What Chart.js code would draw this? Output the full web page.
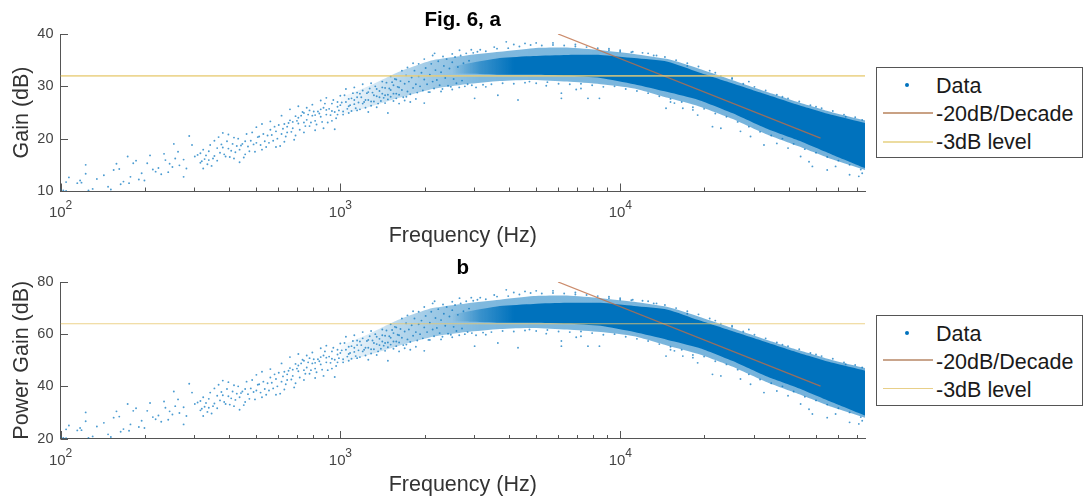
<!DOCTYPE html>
<html><head><meta charset="utf-8">
<script src="https://cdn.jsdelivr.net/npm/chart.js@4"></script>
<style>
html,body{margin:0;padding:0;background:#fff;overflow:hidden}
#wrap{position:relative;width:1083px;height:501px;font-family:"Liberation Sans",Arial,sans-serif}
.cv{position:absolute;left:0;width:1083px}
.lg{position:absolute;left:876px;width:205px;height:89px;border:1px solid #555;background:#fff}
.lg div{position:absolute;left:59px;font-size:21.5px;line-height:26px;color:#1a1a1a;white-space:nowrap}
.lg i{position:absolute;left:6px;width:50px;height:2px}
.lg b{position:absolute;left:28px;width:4px;height:4px;border-radius:50%;background:#0072BD}
</style></head><body>
<div id="wrap">
<canvas id="a" class="cv" style="top:0;height:250px" width="1083" height="250"></canvas>
<canvas id="b" class="cv" style="top:250px;height:251px" width="1083" height="251"></canvas>
<div class="lg" style="top:67px"><b style="top:15px"></b><div style="top:5px">Data</div><i style="top:44px;background:#c9a184"></i><div style="top:33px">-20dB/Decade</div><i style="top:73px;background:#ecdca0"></i><div style="top:61px">-3dB level</div></div>
<div class="lg" style="top:315px"><b style="top:15px"></b><div style="top:5px">Data</div><i style="top:43px;background:#c9a58c"></i><div style="top:33px">-20dB/Decade</div><i style="top:72px;background:#e8cf88;height:1px"></i><div style="top:61px">-3dB level</div></div>
</div>
<script>
// frequency ticks (Hz)
const xTicks=[100,200,300,400,500,600,700,800,900,1000,2000,3000,4000,5000,6000,7000,8000,9000,10000,20000,30000,40000,50000,60000,70000];
const decadeExp={100:'2',1000:'3',10000:'4'};
const yTicksA=[10,20,30,40], yTicksB=[20,40,60,80];
const titleA='Fig. 6, a', titleB='b';
const slopeFreq=[6000,52000], slopeA=[40,20.1], slopeB=[80,40.1];
const levelFreq=[100,75000], levelA=[32,32], levelB=[64,64];
// dense cloud outlines: log10(Hz) positions and gain values
const edgeLog=[3.00,3.10,3.21,3.33,3.45,3.57,3.69,3.81,3.93,4.05,4.17,4.28,4.40,4.52,4.64,4.76,4.875];
const outerTopA=[27.8,30.0,32.8,35.0,35.9,36.6,37.3,37.4,36.9,36.2,35.2,33.4,31.2,29.0,26.9,25.0,23.5];
const outerLowA=[24.5,26.0,27.8,29.5,30.4,31.0,31.2,30.9,30.4,29.6,27.8,26.2,23.8,20.9,18.5,16.0,14.0];
const outerTopB=[55.6,60.0,65.6,70.0,71.8,73.2,74.6,74.8,73.8,72.4,70.4,66.8,62.4,58.0,53.8,50.0,47.0];
const outerLowB=[49.0,52.0,55.6,59.0,60.8,62.0,62.4,61.8,60.8,59.2,55.6,52.4,47.6,41.8,37.0,32.0,28.0];
const coreLog=[3.40,3.46,3.57,3.69,3.81,3.93,4.05,4.17,4.28,4.40,4.52,4.64,4.76,4.875];
const coreTopA=[33.8,34.4,35.4,35.8,36.0,36.0,35.4,34.7,32.7,30.6,28.5,26.4,24.5,23.0];
const coreLowA=[32.4,32.4,32.2,32.2,32.0,31.6,30.4,28.9,27.4,24.9,22.0,19.6,16.9,14.4];
const coreTopB=[67.6,68.8,70.8,71.6,72.0,72.0,70.8,69.4,65.4,61.2,57.0,52.8,49.0,46.0];
const coreLowB=[64.8,64.8,64.4,64.4,64.0,63.2,60.8,57.8,54.8,49.8,44.0,39.2,33.8,28.8];
// individually readable points: [log10(Hz), gain dB]
const pointsA=[[2.00,10.3],[2.01,10.1],[2.02,10.0],[2.02,11.7],[2.03,12.6],[2.06,11.5],[2.07,12.0],[2.075,11.6],[2.09,15.0],[2.09,13.3],[2.10,10.1],[2.115,10.4],[2.13,12.3],[2.155,13.0],[2.17,10.8],[2.18,10.3],[2.19,14.0],[2.20,15.2],[2.21,14.2],[2.215,11.3],[2.225,11.8],[2.24,16.6],[2.25,12.7],[2.26,15.3],[2.27,15.8],[2.245,11.5],[2.28,12.2],[2.29,13.4],[2.30,12.0],[2.31,15.3],[2.32,16.8],[2.33,14.1],[2.34,13.7],[2.35,14.4],[2.36,13.2],[2.37,17.1],[2.375,15.9],[2.385,13.6],[2.39,15.2],[2.40,14.6],[2.405,19.0],[2.41,16.2],[2.42,17.5],[2.425,14.9],[2.44,16.0],[2.44,12.7],[2.45,14.3],[2.46,20.5],[2.47,18.8],[2.48,16.6],[2.49,16.9],[2.50,15.4],
[2.50,17.2],[2.505,15.7],[2.51,14.3],[2.515,16.1],[2.52,16.8],[2.53,15.9],[2.53,17.6],[2.54,14.8],[2.55,16.7],[2.55,19.6],[2.56,18.2],[2.565,20.3],[2.57,17.3],[2.58,21.1],[2.58,18.3],[2.59,16.6],[2.60,20.8],[2.60,18.1],[2.61,17.7],[2.62,16.2],[2.62,20.2],[2.63,18.6],[2.64,17.9],[2.64,15.5],[2.65,19.0],[2.66,17.0],[2.665,20.9],[2.67,18.5],[2.68,19.6],[2.69,18.9],[2.70,22.2],[2.70,19.2],[2.71,20.4],[2.72,17.9],[2.72,22.8],[2.73,19.5],[2.74,20.6],[2.75,21.7],[2.75,23.3],[2.76,19.6],[2.77,21.4],[2.77,18.4],[2.78,22.6],[2.79,20.9],[2.79,24.4],[2.80,22.8],[2.80,19.4],[2.81,21.2],[2.82,23.5],[2.82,25.6],[2.83,22.0],[2.84,24.3],[2.84,20.6],[2.85,22.9],[2.85,26.2],[2.86,24.4],[2.87,23.1],[2.87,21.2],[2.88,25.9],[2.88,23.6],[2.89,22.4],[2.90,24.4],[2.90,26.5],[2.91,23.4],[2.91,21.6],[2.92,25.2],[2.93,27.3],[2.93,24.2],[2.94,22.0],[2.94,25.9],[2.95,24.6],[2.95,27.8],[2.96,25.7],[2.97,23.4],[2.97,26.7],[2.98,25.1],[2.98,21.8],[2.99,26.1],[2.99,24.6],[3.00,28.2],[3.00,26.4],
[3.01,25.2],[3.02,27.0],[3.02,29.5],[3.03,26.2],[3.03,24.9],[3.04,27.7],[3.05,26.6],[3.05,29.8],[3.06,25.4],[3.06,27.9],[3.07,28.6],[3.08,26.7],[3.08,30.4],[3.09,27.4],[3.10,25.1],[3.10,28.9],[3.11,27.1],[3.11,30.6],[3.12,28.3],[3.13,26.0],[3.13,29.5],[3.14,27.9],[3.15,30.9],[3.15,28.6],[3.16,26.8],[3.16,29.7],[3.17,24.9],[3.17,28.4],[3.18,31.9],[3.18,29.3],[3.19,27.2],[3.19,30.2],[3.20,28.6],[3.20,31.3],[3.21,26.7],[3.21,29.8],[3.22,33.0],[3.23,27.3],[3.24,33.6],[3.25,27.0],[3.26,34.4],[3.27,27.6],[3.28,34.3],[3.30,26.8],[3.30,35.2],[3.236,28.0],[3.32,28.9],[3.33,35.9],[3.337,36.3],[3.367,35.7],[3.36,29.0],[3.40,36.2],[3.40,29.4],[3.426,36.9],[3.468,37.0],[3.48,27.7],[3.50,37.0],[3.52,29.9],[3.563,28.3],[3.55,37.5],[3.593,38.5],[3.62,38.0],[3.635,27.4],[3.66,38.2],[3.676,30.9],[3.70,38.3],[3.736,30.1],[3.76,38.3],[3.79,28.7],[3.79,27.7],[3.84,38.0],[3.843,29.4],[3.86,29.6],[3.885,27.7],[3.926,27.7],[3.96,37.2],[4.00,36.9],[4.045,36.6],[4.10,36.3],[4.13,35.9],[4.164,25.8],[4.18,27.0],[4.194,26.8],[4.224,25.8],[4.24,34.4],[4.26,25.5],[4.277,24.5],[4.33,22.3],[4.36,22.0],[4.34,32.6],[4.40,31.6],[4.43,21.4],[4.46,30.9],[4.466,20.4],[4.514,18.8],[4.56,19.1],[4.58,28.0],[4.60,18.2],[4.645,16.6],[4.675,15.6],[4.687,14.7],[4.70,26.1],[4.74,14.0],[4.77,14.7],[4.806,24.2],[4.82,13.1],[4.853,12.8],[4.865,13.4],[4.865,23.6]];
const cloudA=[[2.51,17.9],[2.525,15.1],[2.535,18.8],[2.545,16.2],[2.56,15.8],[2.575,18.9],[2.585,17.0],[2.595,19.5],[2.605,16.5],[2.615,19.0],[2.625,17.4],[2.635,20.0],[2.645,18.7],[2.655,16.4],[2.66,19.5],[2.675,17.6],[2.685,21.2],[2.695,17.5],[2.705,20.3],[2.715,18.8],[2.725,20.9],[2.735,18.4],[2.745,19.2],[2.755,20.7],[2.765,22.3],[2.775,20.0],[2.785,18.6],[2.795,21.9],[2.805,20.4],[2.815,23.0],[2.825,21.3],[2.835,19.8],[2.845,23.4],[2.855,21.7],[2.865,25.1],[2.875,22.4],[2.885,24.6],[2.895,23.1],[2.905,25.2],[2.915,22.7],[2.925,24.8],[2.935,23.2],[2.945,26.7],[2.955,23.1],[2.965,24.5],[2.975,27.4],[2.985,23.9],[2.995,25.4],[2.81,22.3],[2.83,23.2],[2.85,24.0],[2.87,24.9],[2.89,25.4],[2.91,24.5],[2.93,25.6],[2.95,25.5],[2.97,25.3],[2.99,27.0],
[3.005,26.9],[3.01,24.6],[3.015,28.3],[3.025,25.7],[3.03,27.6],[3.035,26.4],[3.04,25.3],[3.045,28.7],[3.05,27.4],[3.055,25.8],[3.06,28.8],[3.065,26.9],[3.07,25.6],[3.075,27.9],[3.08,29.2],[3.085,27.0],[3.09,25.9],[3.095,28.7],[3.10,27.4],[3.105,29.6],[3.11,26.3],[3.115,28.8],[3.12,27.1],[3.125,30.0],[3.13,28.1],[3.135,26.7],[3.14,29.1],[3.145,27.2],[3.15,29.8],[3.155,27.8],[3.16,28.3],[3.165,30.7],[3.17,27.5],[3.175,29.6],[3.18,28.0],[3.185,30.8],[3.19,28.6],[3.195,31.4],[3.20,27.7],[3.205,29.9],[3.21,28.4],[3.215,31.0],[3.22,29.3],[3.225,27.9],[3.23,30.5],[3.235,32.1],[3.24,29.0],[3.245,30.9],[3.25,28.5],[3.255,31.7],[3.26,29.7],[3.265,33.0],[3.27,30.4],[3.275,28.8],[3.28,31.9],[3.285,30.0],[3.29,32.6],[3.295,29.2],[3.30,31.3],[3.305,33.5],[3.31,30.4],[3.315,28.9],[3.32,32.2],[3.325,34.3],[3.33,30.9],[3.335,29.6],[3.34,33.1],[3.345,31.2],[3.35,34.8],[3.355,30.2],[3.36,32.7],[3.365,29.5],[3.37,33.9],[3.375,31.6],[3.38,35.2],[3.385,30.1],[3.39,33.4],[3.395,29.9],[3.40,34.6],[3.405,31.4],[3.41,35.6],[3.415,30.6],[3.42,33.7],[3.425,29.8],[3.43,35.9],[3.435,31.1],[3.44,34.4],[3.445,30.0],[3.45,36.3],[3.455,30.4],[3.46,34.9],[3.47,30.2],[3.475,36.4],[3.485,29.8],[3.49,36.6],[3.51,30.3],[3.52,36.7],[3.54,30.4],[3.56,37.2],[3.58,30.6],[3.60,37.3],[3.62,30.5],[3.64,37.6],[3.66,30.7],[3.68,37.9],[3.70,30.6],[3.72,37.8],[3.74,30.8],[3.76,37.9],[3.78,30.5],[3.80,37.8],[3.82,30.4],[3.84,37.6],[3.86,30.5],[3.88,37.5],[3.90,30.2],[3.92,37.3],[3.94,29.9],[3.96,36.9],[3.98,30.0],[4.00,36.6],[4.02,29.5],[4.04,36.5],[4.06,29.1],[4.08,36.4],[4.10,28.7],[4.12,35.9],[4.14,28.1],[4.16,35.6],[4.18,27.6],[4.20,35.0],[4.22,27.0],[4.24,33.9],[4.26,26.0],[4.28,33.8],[4.30,25.7],[4.32,33.0],[4.34,24.8],[4.36,32.0],[4.38,24.2],[4.40,31.4],[4.42,23.2],[4.44,30.5],[4.46,22.3],[4.48,29.9],[4.50,21.3],[4.52,29.2],[4.54,20.6],[4.56,28.4],[4.58,20.0],[4.60,27.7],[4.62,19.0],[4.64,27.1],[4.66,18.0],[4.68,26.4],[4.70,17.3],[4.72,25.8],[4.74,16.5],[4.76,25.3],[4.78,15.8],[4.80,24.6],[4.82,15.0],[4.84,24.1],[4.86,14.1]];
const pointsB=[[2.00,20.6],[2.01,20.2],[2.02,20.1],[2.02,23.5],[2.03,25.0],[2.06,23.1],[2.07,24.0],[2.075,23.2],[2.09,30.0],[2.09,26.6],[2.10,20.2],[2.115,20.8],[2.13,24.6],[2.155,26.0],[2.17,21.6],[2.18,20.6],[2.19,28.0],[2.20,30.4],[2.21,28.4],[2.215,22.6],[2.225,23.6],[2.24,33.2],[2.25,25.4],[2.26,30.6],[2.27,31.6],[2.245,23.0],[2.28,24.4],[2.29,26.8],[2.30,24.0],[2.31,30.6],[2.32,33.6],[2.33,28.2],[2.34,27.4],[2.35,28.8],[2.36,26.4],[2.37,34.2],[2.375,31.8],[2.385,27.2],[2.39,30.4],[2.40,29.2],[2.405,38.0],[2.41,32.4],[2.42,35.0],[2.425,29.8],[2.44,32.0],[2.44,25.4],[2.45,28.6],[2.46,41.0],[2.47,37.6],[2.48,33.2],[2.49,33.8],[2.50,30.8],
[2.50,34.4],[2.505,31.4],[2.51,28.6],[2.515,32.2],[2.52,33.6],[2.53,31.8],[2.53,35.2],[2.54,29.6],[2.55,33.4],[2.55,39.2],[2.56,36.4],[2.565,40.6],[2.57,34.6],[2.58,42.2],[2.58,36.6],[2.59,33.2],[2.60,41.6],[2.60,36.2],[2.61,35.4],[2.62,32.4],[2.62,40.4],[2.63,37.2],[2.64,35.8],[2.64,31.0],[2.65,38.0],[2.66,34.0],[2.665,41.8],[2.67,37.0],[2.68,39.2],[2.69,37.8],[2.70,44.4],[2.70,38.4],[2.71,40.8],[2.72,35.8],[2.72,45.6],[2.73,39.0],[2.74,41.2],[2.75,43.4],[2.75,46.6],[2.76,39.2],[2.77,42.8],[2.77,36.8],[2.78,45.2],[2.79,41.8],[2.79,48.8],[2.80,45.6],[2.80,38.8],[2.81,42.4],[2.82,47.0],[2.82,51.2],[2.83,44.0],[2.84,48.6],[2.84,41.2],[2.85,45.8],[2.85,52.4],[2.86,48.8],[2.87,46.2],[2.87,42.4],[2.88,51.8],[2.88,47.2],[2.89,44.8],[2.90,48.8],[2.90,53.0],[2.91,46.8],[2.91,43.2],[2.92,50.4],[2.93,54.6],[2.93,48.4],[2.94,44.0],[2.94,51.8],[2.95,49.2],[2.95,55.6],[2.96,51.4],[2.97,46.8],[2.97,53.4],[2.98,50.2],[2.98,43.6],[2.99,52.2],[2.99,49.2],[3.00,56.4],[3.00,52.8],
[3.01,50.4],[3.02,54.0],[3.02,59.0],[3.03,52.4],[3.03,49.8],[3.04,55.4],[3.05,53.2],[3.05,59.6],[3.06,50.8],[3.06,55.8],[3.07,57.2],[3.08,53.4],[3.08,60.8],[3.09,54.8],[3.10,50.2],[3.10,57.8],[3.11,54.2],[3.11,61.2],[3.12,56.6],[3.13,52.0],[3.13,59.0],[3.14,55.8],[3.15,61.8],[3.15,57.2],[3.16,53.6],[3.16,59.4],[3.17,49.8],[3.17,56.8],[3.18,63.8],[3.18,58.6],[3.19,54.4],[3.19,60.4],[3.20,57.2],[3.20,62.6],[3.21,53.4],[3.21,59.6],[3.22,66.0],[3.23,54.6],[3.24,67.2],[3.25,54.0],[3.26,68.8],[3.27,55.2],[3.28,68.6],[3.30,53.6],[3.30,70.4],[3.236,56.0],[3.32,57.8],[3.33,71.8],[3.337,72.6],[3.367,71.4],[3.36,58.0],[3.40,72.4],[3.40,58.8],[3.426,73.8],[3.468,74.0],[3.48,55.4],[3.50,74.0],[3.52,59.8],[3.563,56.6],[3.55,75.0],[3.593,77.0],[3.62,76.0],[3.635,54.8],[3.66,76.4],[3.676,61.8],[3.70,76.6],[3.736,60.2],[3.76,76.6],[3.79,57.4],[3.79,55.4],[3.84,76.0],[3.843,58.8],[3.86,59.2],[3.885,55.4],[3.926,55.4],[3.96,74.4],[4.00,73.8],[4.045,73.2],[4.10,72.6],[4.13,71.8],[4.164,51.6],[4.18,54.0],[4.194,53.6],[4.224,51.6],[4.24,68.8],[4.26,51.0],[4.277,49.0],[4.33,44.6],[4.36,44.0],[4.34,65.2],[4.40,63.2],[4.43,42.8],[4.46,61.8],[4.466,40.8],[4.514,37.6],[4.56,38.2],[4.58,56.0],[4.60,36.4],[4.645,33.2],[4.675,31.2],[4.687,29.4],[4.70,52.2],[4.74,28.0],[4.77,29.4],[4.806,48.4],[4.82,26.2],[4.853,25.6],[4.865,26.8],[4.865,47.2]];
const cloudB=[[2.51,35.8],[2.525,30.2],[2.535,37.6],[2.545,32.4],[2.56,31.6],[2.575,37.8],[2.585,34.0],[2.595,39.0],[2.605,33.0],[2.615,38.0],[2.625,34.8],[2.635,40.0],[2.645,37.4],[2.655,32.8],[2.66,39.0],[2.675,35.2],[2.685,42.4],[2.695,35.0],[2.705,40.6],[2.715,37.6],[2.725,41.8],[2.735,36.8],[2.745,38.4],[2.755,41.4],[2.765,44.6],[2.775,40.0],[2.785,37.2],[2.795,43.8],[2.805,40.8],[2.815,46.0],[2.825,42.6],[2.835,39.6],[2.845,46.8],[2.855,43.4],[2.865,50.2],[2.875,44.8],[2.885,49.2],[2.895,46.2],[2.905,50.4],[2.915,45.4],[2.925,49.6],[2.935,46.4],[2.945,53.4],[2.955,46.2],[2.965,49.0],[2.975,54.8],[2.985,47.8],[2.995,50.8],[2.81,44.6],[2.83,46.4],[2.85,48.0],[2.87,49.8],[2.89,50.8],[2.91,49.0],[2.93,51.2],[2.95,51.0],[2.97,50.6],[2.99,54.0],
[3.005,53.8],[3.01,49.2],[3.015,56.6],[3.025,51.4],[3.03,55.2],[3.035,52.8],[3.04,50.6],[3.045,57.4],[3.05,54.8],[3.055,51.6],[3.06,57.6],[3.065,53.8],[3.07,51.2],[3.075,55.8],[3.08,58.4],[3.085,54.0],[3.09,51.8],[3.095,57.4],[3.10,54.8],[3.105,59.2],[3.11,52.6],[3.115,57.6],[3.12,54.2],[3.125,60.0],[3.13,56.2],[3.135,53.4],[3.14,58.2],[3.145,54.4],[3.15,59.6],[3.155,55.6],[3.16,56.6],[3.165,61.4],[3.17,55.0],[3.175,59.2],[3.18,56.0],[3.185,61.6],[3.19,57.2],[3.195,62.8],[3.20,55.4],[3.205,59.8],[3.21,56.8],[3.215,62.0],[3.22,58.6],[3.225,55.8],[3.23,61.0],[3.235,64.2],[3.24,58.0],[3.245,61.8],[3.25,57.0],[3.255,63.4],[3.26,59.4],[3.265,66.0],[3.27,60.8],[3.275,57.6],[3.28,63.8],[3.285,60.0],[3.29,65.2],[3.295,58.4],[3.30,62.6],[3.305,67.0],[3.31,60.8],[3.315,57.8],[3.32,64.4],[3.325,68.6],[3.33,61.8],[3.335,59.2],[3.34,66.2],[3.345,62.4],[3.35,69.6],[3.355,60.4],[3.36,65.4],[3.365,59.0],[3.37,67.8],[3.375,63.2],[3.38,70.4],[3.385,60.2],[3.39,66.8],[3.395,59.8],[3.40,69.2],[3.405,62.8],[3.41,71.2],[3.415,61.2],[3.42,67.4],[3.425,59.6],[3.43,71.8],[3.435,62.2],[3.44,68.8],[3.445,60.0],[3.45,72.6],[3.455,60.8],[3.46,69.8],[3.47,60.4],[3.475,72.8],[3.485,59.6],[3.49,73.2],[3.51,60.6],[3.52,73.4],[3.54,60.8],[3.56,74.4],[3.58,61.2],[3.60,74.6],[3.62,61.0],[3.64,75.2],[3.66,61.4],[3.68,75.8],[3.70,61.2],[3.72,75.6],[3.74,61.6],[3.76,75.8],[3.78,61.0],[3.80,75.6],[3.82,60.8],[3.84,75.2],[3.86,61.0],[3.88,75.0],[3.90,60.4],[3.92,74.6],[3.94,59.8],[3.96,73.8],[3.98,60.0],[4.00,73.2],[4.02,59.0],[4.04,73.0],[4.06,58.2],[4.08,72.8],[4.10,57.4],[4.12,71.8],[4.14,56.2],[4.16,71.2],[4.18,55.2],[4.20,70.0],[4.22,54.0],[4.24,67.8],[4.26,52.0],[4.28,67.6],[4.30,51.4],[4.32,66.0],[4.34,49.6],[4.36,64.0],[4.38,48.4],[4.40,62.8],[4.42,46.4],[4.44,61.0],[4.46,44.6],[4.48,59.8],[4.50,42.6],[4.52,58.4],[4.54,41.2],[4.56,56.8],[4.58,40.0],[4.60,55.4],[4.62,38.0],[4.64,54.2],[4.66,36.0],[4.68,52.8],[4.70,34.6],[4.72,51.6],[4.74,33.0],[4.76,50.6],[4.78,31.6],[4.80,49.2],[4.82,30.0],[4.84,48.2],[4.86,28.2]];

const toXY=(lx,ys)=>lx.map((l,i)=>({x:Math.pow(10,l),y:ys[i]}));
const inwardTicks={id:'inwardTicks',afterDraw(c){
  const g=c.ctx,x=c.scales.x,y=c.scales.y,a=c.chartArea;
  g.save();g.strokeStyle='#555';g.lineWidth=1;g.beginPath();
  xTicks.forEach(v=>{const p=Math.round(x.getPixelForValue(v))+.5,len=decadeExp[v]?7.5:3.5;g.moveTo(p,a.bottom);g.lineTo(p,a.bottom-len);});
  y.ticks.forEach(t=>{const p=Math.round(y.getPixelForValue(t.value))+.5;g.moveTo(a.left,p);g.lineTo(a.left+7.5,p);});
  g.stroke();
  g.fillStyle='#444';g.textBaseline='alphabetic';g.textAlign='left';
  Object.keys(decadeExp).forEach(v=>{const p=x.getPixelForValue(+v)-11.5;
    g.font='15px "Liberation Sans"';g.fillText('10',p,a.bottom+26);
    g.font='12px "Liberation Sans"';g.fillText(decadeExp[v],p+16.5,a.bottom+18);});
  g.restore();
}};
// horizontal fade of a fill so the sparse end of the cloud stays light
function fade(stops){return ctx=>{
  const c=ctx.chart,x=c.scales&&c.scales.x;
  if(!x||!c.chartArea)return 'rgba(0,114,189,.5)';
  const g=c.ctx.createLinearGradient(x.left,0,x.right,0),w=x.right-x.left;
  stops.forEach(s=>g.addColorStop(Math.min(1,Math.max(0,(x.getPixelForValue(Math.pow(10,s[0]))-x.left)/w)),'rgba(0,114,189,'+s[1]+')'));
  return g;};}
const outerFade=[[3.00,0.03],[3.10,0.14],[3.21,0.28],[3.33,0.38],[3.50,0.5],[4.875,0.55]];
const coreFade=[[3.40,0],[3.50,0.55],[3.62,1],[4.875,1]];
function band(top,low,lx,color,order,idx){
  return [{type:'line',data:toXY(lx,top),borderWidth:0,pointRadius:0,tension:0.2,order,fill:{target:idx+1},backgroundColor:color},
          {type:'line',data:toXY(lx,low),borderWidth:0,pointRadius:0,tension:0.2,order,fill:false}];
}
function build(id,o){
  const datasets=[
    {type:'line',label:'-20dB/Decade',data:o.slopeF.map((f,i)=>({x:f,y:o.slope[i]})),borderColor:o.slopeColor,borderWidth:1.3,pointRadius:0,fill:false,order:1},
    {type:'line',label:'-3dB level',data:o.levelF.map((f,i)=>({x:f,y:o.level[i]})),borderColor:o.levelColor,borderWidth:o.levelW,pointRadius:0,fill:false,order:0},
    {label:'Data',data:o.points.concat(o.cloud).map(p=>({x:Math.pow(10,p[0]),y:p[1]})),backgroundColor:'rgba(0,114,189,.7)',borderWidth:0,pointRadius:0.95,order:3},
    ...band(o.coreTop,o.coreLow,coreLog,fade(coreFade),4,3),
    ...band(o.outerTop,o.outerLow,edgeLog,fade(outerFade),5,5)
  ];
  new Chart(document.getElementById(id),{type:'scatter',data:{datasets},plugins:[inwardTicks],options:{
    responsive:false,animation:false,events:[],
    layout:{padding:{left:0,right:218,top:0,bottom:0}},
    plugins:{legend:{display:false},tooltip:{enabled:false},
      title:{display:true,text:o.title,fullSize:false,color:'#000',font:{family:'Liberation Sans',size:20.5,weight:'bold',lineHeight:1.2},padding:{top:o.titleTop,bottom:o.titleBottom}}},
    scales:{
      x:{type:'logarithmic',min:100,max:75000,
        grid:{display:false,drawTicks:false},border:{display:true,color:'#555',width:1},
        afterBuildTicks(s){s.ticks=xTicks.map(v=>({value:v,major:!!decadeExp[v]}));},
        afterFit(s){s.height=o.xH;},
        ticks:{display:false},
        title:{display:true,text:'Frequency (Hz)',color:'#333',font:{family:'Liberation Sans',size:21.5,lineHeight:1.2},padding:{top:0,bottom:o.xTitlePad}}},
      y:{min:o.ymin,max:o.ymax,
        grid:{display:false,drawTicks:false},border:{display:true,color:'#555',width:1},
        afterBuildTicks(s){s.ticks=o.yTicks.map(v=>({value:v}));},
        afterFit(s){s.width=60.5;},
        ticks:{padding:7,color:'#444',font:{family:'Liberation Sans',size:14.5}},
        title:{display:true,text:o.yTitle,color:'#333',font:{family:'Liberation Sans',size:21.5,lineHeight:1.2},padding:{top:9,bottom:9}}}
    }}});
}
build('a',{title:titleA,titleTop:8,titleBottom:1.4,xH:59,xTitlePad:1,yTitle:'Gain (dB)',ymin:10,ymax:40,yTicks:yTicksA,
  points:pointsA,cloud:cloudA,outerTop:outerTopA,outerLow:outerLowA,coreTop:coreTopA,coreLow:coreLowA,slopeF:slopeFreq,slope:slopeA,levelF:levelFreq,level:levelA,
  slopeColor:'rgba(190,110,70,.8)',levelColor:'rgba(232,205,120,.8)',levelW:1.6});
build('b',{title:titleB,titleTop:6,titleBottom:1.4,xH:62.5,xTitlePad:3,yTitle:'Power Gain (dB)',ymin:20,ymax:80,yTicks:yTicksB,
  points:pointsB,cloud:cloudB,outerTop:outerTopB,outerLow:outerLowB,coreTop:coreTopB,coreLow:coreLowB,slopeF:slopeFreq,slope:slopeB,levelF:levelFreq,level:levelB,
  slopeColor:'rgba(190,110,70,.8)',levelColor:'rgba(232,200,110,.8)',levelW:1.2});
</script>
</body></html>
